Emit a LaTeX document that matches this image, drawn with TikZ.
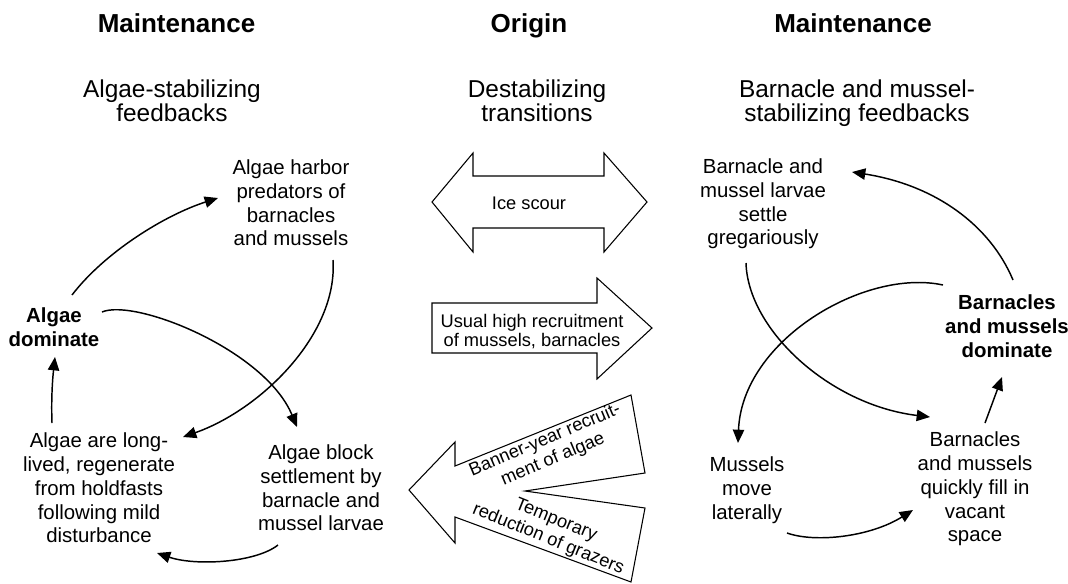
\documentclass[tikz,border=0pt]{standalone}
\usepackage{fontspec}
\setmainfont{Liberation Sans}
\usetikzlibrary{arrows.meta}
\begin{document}
\begin{tikzpicture}[x=0.75pt,y=-0.75pt,
  title/.style={font=\fontsize{19.5}{23}\selectfont\bfseries, anchor=base, inner sep=0},
  subtitle/.style={font=\fontsize{18.3}{18}\selectfont, align=center, inner sep=0},
  txt/.style={font=\fontsize{15.3}{17.8}\selectfont, align=center, inner sep=0},
  btxt/.style={font=\fontsize{15.3}{17.8}\selectfont\bfseries, align=center, inner sep=0},
  ctxt/.style={font=\fontsize{13.7}{14.5}\selectfont, align=center, inner sep=0},
  rtxt/.style={font=\fontsize{13.7}{15.5}\selectfont, align=center, inner sep=0},
  link/.style={line width=1.1pt, -{Triangle[length=10pt,width=8.5pt]}},
  blk/.style={line width=0.8pt, line join=miter}
]
\useasboundingbox (0,0) rectangle (1068,583);

% titles
\node[title] (t1) at (176.5,32) {Maintenance};
\node[title] (t2) at (529,32) {Origin};
\node[title] (t3) at (853,32) {Maintenance};
\node[subtitle] (s1) at (172,101) {Algae-stabilizing\\feedbacks};
\node[subtitle] (s2) at (537,101) {Destabilizing\\transitions};
\node[subtitle] (s3) at (857,103.5) {Barnacle and mussel-\\stabilizing feedbacks};

% left cycle
\node[txt] (H) at (291,203) {Algae harbor\\predators of\\barnacles\\and mussels};
\node[btxt] (D) at (54,327) {Algae\\dominate};
\node[txt] (L) at (99,488) {Algae are long-\\lived, regenerate\\from holdfasts\\following mild\\disturbance};
\node[txt] (B) at (321,488) {Algae block\\settlement by\\barnacle and\\mussel larvae};

% right cycle
\node[txt] (S) at (763,204) {Barnacle and\\mussel larvae\\settle\\gregariously};
\node[btxt] (R) at (1007,326) {Barnacles\\and mussels\\dominate};
\node[txt] (M) at (747,490) {Mussels\\move\\laterally};
\node[txt] (F) at (975,489) {Barnacles\\and mussels\\quickly fill in\\vacant\\space};

% left connectors
\draw[link] ([shift={(18,-32)}]D.center) .. controls (105,252) and (165,215) .. ([shift={(-73,-5)}]H.center);
\draw[link] ([shift={(42,57)}]H.center) .. controls (338,335) and (260,410) .. ([shift={(84,-51)}]L.center);
\draw[link] ([shift={(48,-15)}]D.center) .. controls (135,298) and (265,350) .. ([shift={(-24,-61)}]B.center);
\draw[link] ([shift={(-43,57)}]B.center) .. controls (255,563) and (195,566) .. ([shift={(58,65)}]L.center);
\draw[link] ([shift={(-47,-65)}]L.center) .. controls (51,395) and (53,375) .. ([shift={(1,30)}]D.center);

% right connectors
\draw[link] ([shift={(6,-46)}]R.center) .. controls (990,225) and (935,185) .. ([shift={(89,-32)}]S.center);
\draw[link] ([shift={(-17,59)}]S.center) .. controls (748,330) and (830,405) .. ([shift={(-45,-72)}]F.center);
\draw[link] ([shift={(-64,-41)}]R.center) .. controls (865,268) and (742,340) .. ([shift={(-9,-47)}]M.center);
\draw[link] ([shift={(40,43)}]M.center) .. controls (815,543) and (870,537) .. ([shift={(-62,21)}]F.center);
\draw[link] ([shift={(10,-66)}]F.center) -- ([shift={(-5,51)}]R.center);

% block arrows
\draw[blk] (432,202) -- (473,153) -- (473,176) -- (604,176) -- (604,153) -- (647,202)
  -- (604,252) -- (604,228) -- (473,228) -- (473,252) -- cycle;
\draw[blk] (432,303) -- (597,303) -- (597,278) -- (652,328) -- (597,379) -- (597,353)
  -- (432,353) -- cycle;
\draw[blk] (409,490) -- (455,442) -- (455,466) -- (631,395) -- (645,473) -- (525,491)
  -- (645,508) -- (631,582) -- (455,517) -- (455,543) -- cycle;

\node[ctxt, anchor=base] (ice) at (529,209.5) {Ice scour};
\node[ctxt] (usual) at (532,331.7) {Usual high recruitment\\of mussels, barnacles};
\node[rtxt, rotate=23] (banner) at (549,450) {Banner-year recruit-\\ment of algae};
\node[rtxt, rotate=-22] (temp) at (552,530) {Temporary\\reduction of grazers};
\end{tikzpicture}
\end{document}
